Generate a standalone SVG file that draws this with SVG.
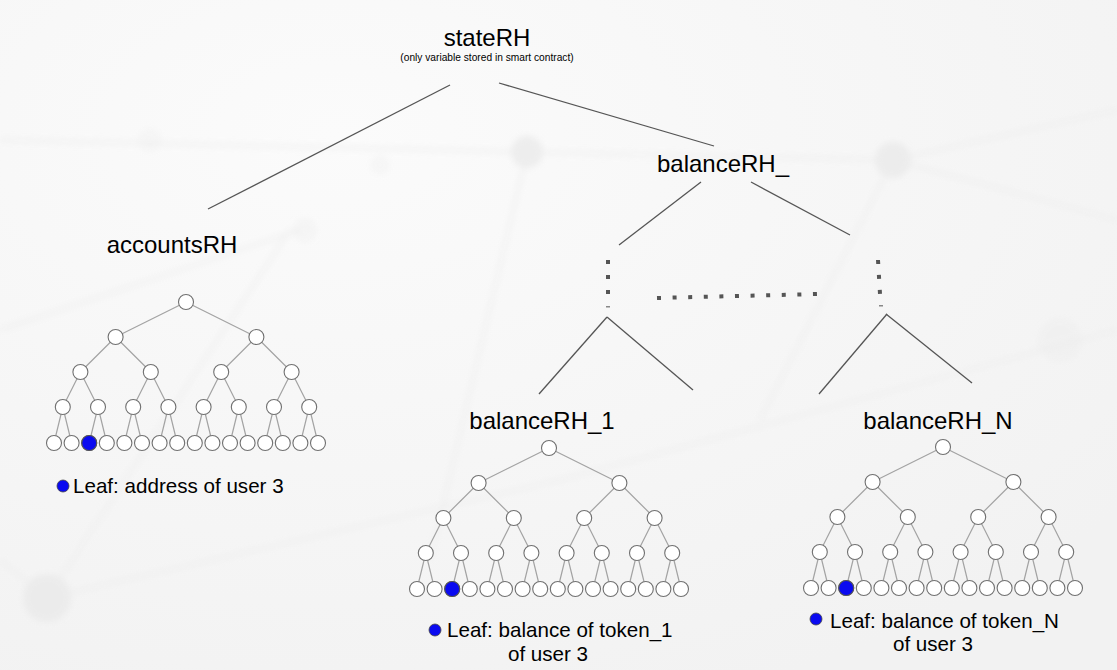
<svg xmlns="http://www.w3.org/2000/svg" xmlns:xlink="http://www.w3.org/1999/xlink" width="1117" height="670" viewBox="0 0 1117 670">
<style>
  .t { font-family: "Liberation Sans", Arial, sans-serif; fill: #000; }
  .big { font-size: 24px; }
  .sub { font-size: 10.2px; }
  .leaf { font-size: 20.6px; }
  .conn { stroke: #555; stroke-width: 1.3; fill: none; }
  .dots { stroke: #555; stroke-width: 4; fill: none; stroke-dasharray: 4 11; }
  .te { stroke: #a3a3a3; stroke-width: 1.2; fill: none; }
  .n { fill: #fff; stroke: #707070; stroke-width: 1.1; }
  .hl { fill: #0a0af0; stroke: #555; stroke-width: 1.1; }
  .bgl { stroke: #ececec; stroke-width: 3; fill: none; }
  .bgn { fill: #e8e8e8; }
</style>
<defs>
  <filter id="blur" x="-50%" y="-50%" width="200%" height="200%"><feGaussianBlur stdDeviation="3"/></filter>
  <radialGradient id="bg" cx="0.3" cy="0.2" r="0.9">
    <stop offset="0" stop-color="#fbfbfb"/>
    <stop offset="1" stop-color="#f2f2f2"/>
  </radialGradient>
  <g id="tree">
    <path class="te" d="M0,0 L-70.4,35 M0,0 L70.4,35
      M-70.4,35 L-105.6,70 M-70.4,35 L-35.2,70 M70.4,35 L35.2,70 M70.4,35 L105.6,70
      M-105.6,70 L-123.2,105 M-105.6,70 L-88,105 M-35.2,70 L-52.8,105 M-35.2,70 L-17.6,105
      M35.2,70 L17.6,105 M35.2,70 L52.8,105 M105.6,70 L88,105 M105.6,70 L123.2,105
      M-123.2,105 L-132,141 M-123.2,105 L-114.4,141 M-88,105 L-96.8,141 M-88,105 L-79.2,141
      M-52.8,105 L-61.6,141 M-52.8,105 L-44,141 M-17.6,105 L-26.4,141 M-17.6,105 L-8.8,141
      M17.6,105 L8.8,141 M17.6,105 L26.4,141 M52.8,105 L44,141 M52.8,105 L61.6,141
      M88,105 L79.2,141 M88,105 L96.8,141 M123.2,105 L114.4,141 M123.2,105 L132,141"/>
    <circle class="n" cx="0" cy="0" r="7.5"/>
    <circle class="n" cx="-70.4" cy="35" r="7.5"/>
    <circle class="n" cx="70.4" cy="35" r="7.5"/>
    <circle class="n" cx="-105.6" cy="70" r="7.5"/>
    <circle class="n" cx="-35.2" cy="70" r="7.5"/>
    <circle class="n" cx="35.2" cy="70" r="7.5"/>
    <circle class="n" cx="105.6" cy="70" r="7.5"/>
    <circle class="n" cx="-123.2" cy="105" r="7.5"/>
    <circle class="n" cx="-88" cy="105" r="7.5"/>
    <circle class="n" cx="-52.8" cy="105" r="7.5"/>
    <circle class="n" cx="-17.6" cy="105" r="7.5"/>
    <circle class="n" cx="17.6" cy="105" r="7.5"/>
    <circle class="n" cx="52.8" cy="105" r="7.5"/>
    <circle class="n" cx="88" cy="105" r="7.5"/>
    <circle class="n" cx="123.2" cy="105" r="7.5"/>
    <circle class="n" cx="-132" cy="141" r="7.5"/>
    <circle class="n" cx="-114.4" cy="141" r="7.5"/>
    <circle class="n" cx="-96.8" cy="141" r="7.5"/>
    <circle class="n" cx="-79.2" cy="141" r="7.5"/>
    <circle class="n" cx="-61.6" cy="141" r="7.5"/>
    <circle class="n" cx="-44" cy="141" r="7.5"/>
    <circle class="n" cx="-26.4" cy="141" r="7.5"/>
    <circle class="n" cx="-8.8" cy="141" r="7.5"/>
    <circle class="n" cx="8.8" cy="141" r="7.5"/>
    <circle class="n" cx="26.4" cy="141" r="7.5"/>
    <circle class="n" cx="44" cy="141" r="7.5"/>
    <circle class="n" cx="61.6" cy="141" r="7.5"/>
    <circle class="n" cx="79.2" cy="141" r="7.5"/>
    <circle class="n" cx="96.8" cy="141" r="7.5"/>
    <circle class="n" cx="114.4" cy="141" r="7.5"/>
    <circle class="n" cx="132" cy="141" r="7.5"/>
  </g>
</defs>

<!-- faint background network -->
<g id="background">
  <rect width="1117" height="670" fill="url(#bg)"/>
  <g filter="url(#blur)" opacity="0.7">
    <path class="bgl" d="M47,598 L290,230 M47,598 L560,480 L1117,330 M527,152 L430,560 M527,152 L893,160 L1117,220 M0,140 L527,152 M893,160 L760,420 M0,560 L47,598 M300,230 L0,330 M893,160 L1117,110"/>
    <circle class="bgn" cx="527" cy="152" r="16"/>
    <circle class="bgn" cx="893" cy="160" r="18"/>
    <circle class="bgn" cx="47" cy="598" r="24"/>
    <circle class="bgn" cx="380" cy="165" r="10" opacity="0.35"/>
    <circle class="bgn" cx="305" cy="230" r="12" opacity="0.4"/>
    <circle class="bgn" cx="150" cy="140" r="12" opacity="0.3"/>
    <circle class="bgn" cx="1060" cy="340" r="22" opacity="0.4"/>
  </g>
</g>

<g id="connectors">
  <line class="conn" x1="450" y1="85" x2="208" y2="209"/>
  <line class="conn" x1="499" y1="83" x2="714" y2="146"/>
  <line class="conn" x1="701" y1="182" x2="619" y2="245"/>
  <line class="conn" x1="751" y1="182" x2="850" y2="235"/>
  <line class="dots" x1="608" y1="260" x2="608" y2="294"/>
  <line class="dots" x1="878" y1="260" x2="880" y2="294"/>
  <rect x="606" y="306" width="4" height="1.5" fill="#888"/>
  <rect x="879" y="305" width="4" height="1.5" fill="#888"/>
  <line class="dots" x1="657" y1="298" x2="817" y2="294" style="stroke-dasharray:4 11.6"/>
  <line class="conn" x1="607" y1="317" x2="539" y2="394"/>
  <line class="conn" x1="607" y1="317" x2="693" y2="390"/>
  <line class="conn" x1="887" y1="314" x2="819" y2="394"/>
  <line class="conn" x1="886" y1="314" x2="972" y2="383"/>
</g>

<g id="stateRH">
  <text class="t big" x="487" y="46" text-anchor="middle">stateRH</text>
  <text class="t sub" x="487" y="61" text-anchor="middle">(only variable stored in smart contract)</text>
</g>

<g id="balanceRH_">
  <text class="t big" x="723" y="172" text-anchor="middle">balanceRH_</text>
</g>

<g id="accountsRH">
  <text class="t big" x="172" y="253" text-anchor="middle">accountsRH</text>
  <use href="#tree" x="186" y="302"/>
  <circle class="hl" cx="89.2" cy="443" r="7.5"/>
  <circle cx="63" cy="486" r="6" fill="#0a0af0" stroke="#444" stroke-width="0.8"/>
  <text class="t leaf" x="73" y="493">Leaf: address of user 3</text>
</g>

<g id="balanceRH_1">
  <text class="t big" x="542" y="429" text-anchor="middle">balanceRH_1</text>
  <use href="#tree" x="549" y="448"/>
  <circle class="hl" cx="452.2" cy="589" r="7.5"/>
  <circle cx="435" cy="630" r="6" fill="#0a0af0" stroke="#444" stroke-width="0.8"/>
  <text class="t leaf" x="447" y="637">Leaf: balance of token_1</text>
  <text class="t leaf" x="548" y="661" text-anchor="middle">of user 3</text>
</g>

<g id="balanceRH_N">
  <text class="t big" x="938" y="429" text-anchor="middle">balanceRH_N</text>
  <use href="#tree" x="943" y="447"/>
  <circle class="hl" cx="846.2" cy="588" r="7.5"/>
  <circle cx="816" cy="619" r="6" fill="#0a0af0" stroke="#444" stroke-width="0.8"/>
  <text class="t leaf" x="830" y="628">Leaf: balance of token_N</text>
  <text class="t leaf" x="933" y="651" text-anchor="middle">of user 3</text>
</g>
</svg>
